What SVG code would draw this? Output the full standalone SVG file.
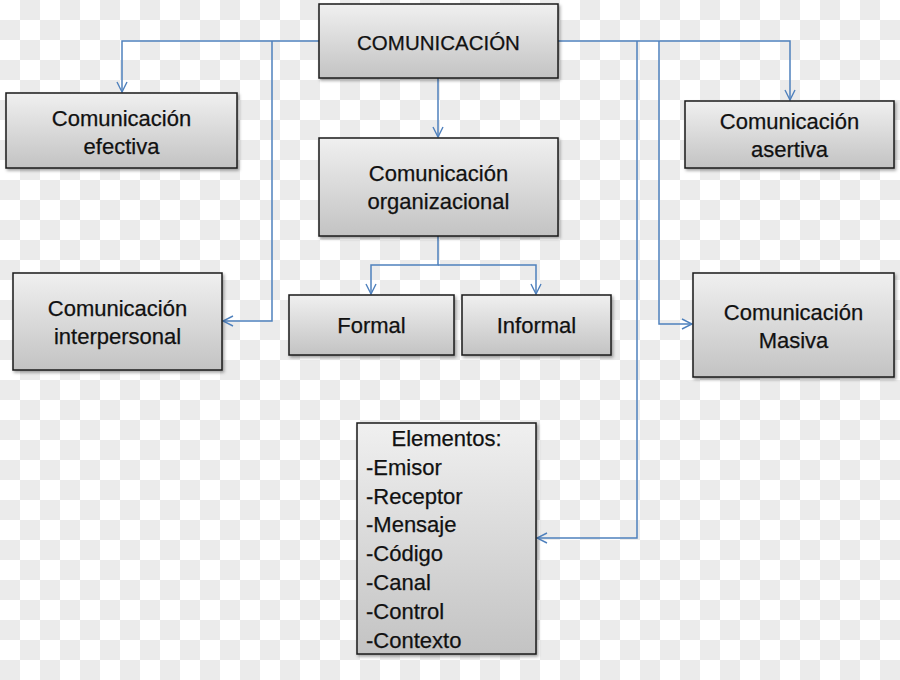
<svg xmlns="http://www.w3.org/2000/svg" width="900" height="680" viewBox="0 0 900 680">
<defs>
<pattern id="checker" x="0" y="0" width="40" height="40" patternUnits="userSpaceOnUse">
<rect width="40" height="40" fill="#ffffff"/>
<rect x="20" y="0" width="20" height="20" fill="#ebebeb"/>
<rect x="0" y="20" width="20" height="20" fill="#ebebeb"/>
</pattern>
<linearGradient id="boxfill" x1="0" y1="0" x2="0" y2="1">
<stop offset="0" stop-color="#f0f0f0"/>
<stop offset="1" stop-color="#c3c3c3"/>
</linearGradient>
<filter id="shadow" x="-10%" y="-10%" width="120%" height="130%">
<feDropShadow dx="1.5" dy="2" stdDeviation="1.5" flood-color="#000" flood-opacity="0.35"/>
</filter>
<marker id="arrow" viewBox="0 0 12 12" refX="11" refY="6" markerWidth="12" markerHeight="12" markerUnits="userSpaceOnUse" orient="auto">
<path d="M1,1 L11,6 L1,11" fill="none" stroke="#4f81bd" stroke-width="1.4"/>
</marker>
</defs>
<style>
.box{fill:url(#boxfill);stroke:#1a1a1a;stroke-width:1.5;filter:url(#shadow)}
.t{font-family:"Liberation Sans","Open Sans",Arial,sans-serif;font-size:22px;fill:#111;text-anchor:middle;stroke:#111;stroke-width:0.25}
.l{font-family:"Liberation Sans","Open Sans",Arial,sans-serif;font-size:22px;fill:#111;stroke:#111;stroke-width:0.25}
.c{fill:none;stroke:#4f81bd;stroke-width:1.5}
</style>
<rect width="900" height="680" fill="url(#checker)"/>

<g id="connectors">
<path class="c" d="M319,41 H122 V92" marker-end="url(#arrow)"/>
<path class="c" d="M272,41 V321 H223" marker-end="url(#arrow)"/>
<path class="c" d="M558,41 H790 V100" marker-end="url(#arrow)"/>
<path class="c" d="M637,41 V538 H537" marker-end="url(#arrow)"/>
<path class="c" d="M659,41 V324 H692" marker-end="url(#arrow)"/>
<path class="c" d="M438,78 V137" marker-end="url(#arrow)"/>
<path class="c" d="M438,236 V265 H371 V294" marker-end="url(#arrow)"/>
<path class="c" d="M438,265 H536 V294" marker-end="url(#arrow)"/>
</g>

<g id="comunicacion">
<rect class="box" x="319" y="4" width="239" height="74"/>
<text class="t" x="438.5" y="50" style="font-size:20.5px">COMUNICACIÓN</text>
</g>
<g id="efectiva">
<rect class="box" x="6" y="93" width="231" height="75"/>
<text class="t" x="121.5" y="126">Comunicación</text>
<text class="t" x="121.5" y="154">efectiva</text>
</g>
<g id="asertiva">
<rect class="box" x="685" y="101" width="209" height="67"/>
<text class="t" x="789.5" y="129">Comunicación</text>
<text class="t" x="789.5" y="157">asertiva</text>
</g>
<g id="organizacional">
<rect class="box" x="319" y="138" width="239" height="98"/>
<text class="t" x="438.5" y="181">Comunicación</text>
<text class="t" x="438.5" y="209">organizacional</text>
</g>
<g id="formal">
<rect class="box" x="289" y="295" width="165" height="60"/>
<text class="t" x="371.5" y="333">Formal</text>
</g>
<g id="informal">
<rect class="box" x="462" y="295" width="149" height="60"/>
<text class="t" x="536.5" y="333">Informal</text>
</g>
<g id="interpersonal">
<rect class="box" x="13" y="273" width="209" height="97"/>
<text class="t" x="117.5" y="316">Comunicación</text>
<text class="t" x="117.5" y="344">interpersonal</text>
</g>
<g id="masiva">
<rect class="box" x="693" y="273" width="201" height="104"/>
<text class="t" x="793.5" y="320">Comunicación</text>
<text class="t" x="793.5" y="348">Masiva</text>
</g>
<g id="elementos">
<rect class="box" x="357" y="423" width="179" height="231"/>
<text class="t" x="446.5" y="446">Elementos:</text>
<text class="l" x="366" y="475">-Emisor</text>
<text class="l" x="366" y="504">-Receptor</text>
<text class="l" x="366" y="532">-Mensaje</text>
<text class="l" x="366" y="561">-Código</text>
<text class="l" x="366" y="590">-Canal</text>
<text class="l" x="366" y="619">-Control</text>
<text class="l" x="366" y="648">-Contexto</text>
</g>
</svg>
